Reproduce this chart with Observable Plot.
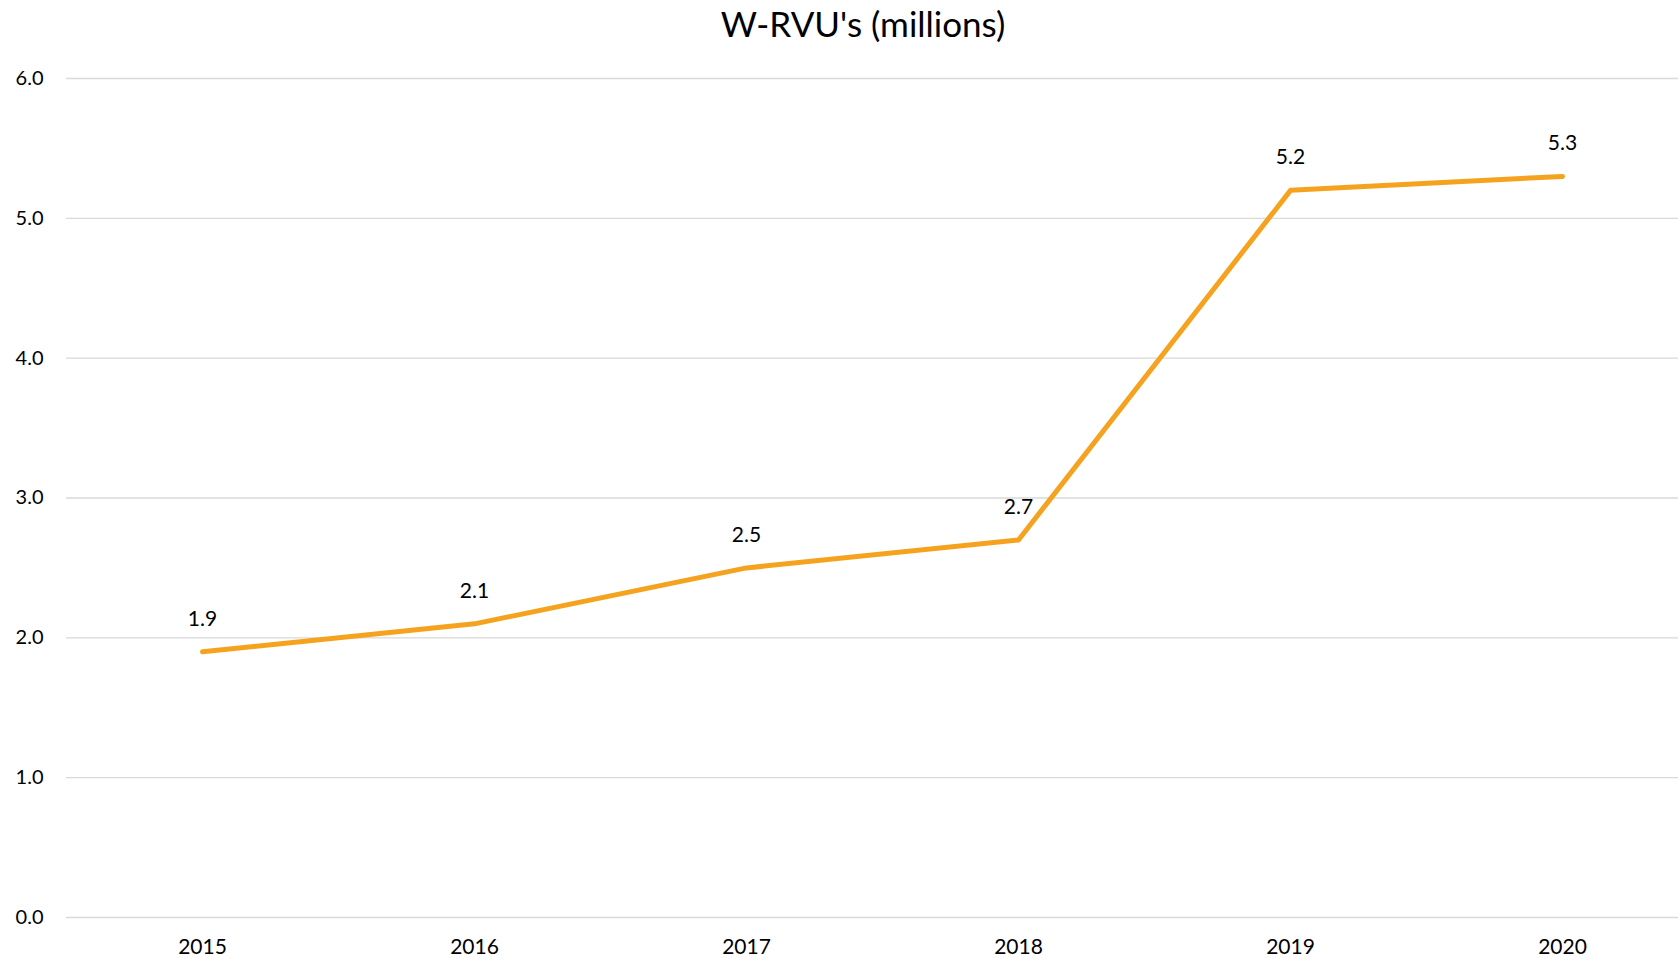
<!DOCTYPE html>
<html>
<head>
<meta charset="utf-8">
<script src="https://cdn.jsdelivr.net/npm/d3@7"></script>
<script src="https://cdn.jsdelivr.net/npm/@observablehq/plot@0.6"></script>
<style>
  body { margin: 0; background: #fff; font-family: Lato, "Open Sans", sans-serif; }
  #title { height: 50px; line-height: 46px; font-size: 35px; color: #000; text-align: center; padding-left: 48px; box-sizing: border-box; width: 1678px; }
</style>
</head>
<body>
<div id="title">W-RVU's (millions)</div>
<div id="chart"></div>
<script>
const years = ["2015", "2016", "2017", "2018", "2019", "2020"];
const values = [1.9, 2.1, 2.5, 2.7, 5.2, 5.3];
const yTicks = [0, 1, 2, 3, 4, 5, 6];

const data = years.map((y, i) => ({year: y, value: values[i]}));

const chart = Plot.plot({
  width: 1678,
  height: 910,
  marginTop: 28,
  marginBottom: 43,
  marginLeft: 66,
  marginRight: 0,
  style: { fontFamily: "Lato, 'Open Sans', sans-serif", fontSize: "20px", color: "#000", background: "#fff" },
  x: { type: "point", domain: years, range: [202, 1562], padding: 0, label: null },
  y: { domain: [0, 6], label: null },
  marks: [
    Plot.ruleY(yTicks, { stroke: "#d9d9d9", strokeWidth: 1.4 }),
    Plot.axisY(yTicks, { tickSize: 0, tickPadding: 23, tickFormat: d => d.toFixed(1), fontSize: 20, label: null }),
    Plot.axisX(years, { tickSize: 0, tickPadding: 22, fontSize: 21, label: null }),
    Plot.line(data, { x: "year", y: "value", stroke: "#F5A31F", strokeWidth: 5, strokeLinecap: "round", strokeLinejoin: "round" }),
    Plot.text(data, { x: "year", y: "value", text: d => d.value.toFixed(1), dy: -33, fontSize: 21, fill: "#000" })
  ]
});
document.getElementById("chart").appendChild(chart);
</script>
</body>
</html>
